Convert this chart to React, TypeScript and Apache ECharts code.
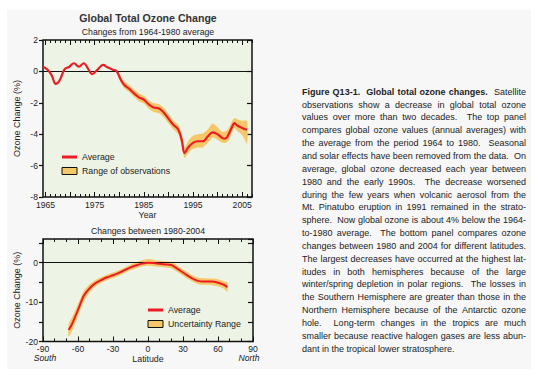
import React, { useEffect, useRef } from "react";
import * as echarts from "echarts";

// ---------- Top panel data: global total ozone change (%) ----------
const years = [1964.5, 1965.5, 1966.3, 1967.1, 1967.9, 1968.9, 1969.8, 1970.8, 1971.8, 1972.8, 1973.5, 1974.5, 1975.7, 1976.7, 1977.6, 1978.7, 1979.4, 1980.2, 1981, 1982, 1983, 1984, 1985, 1986, 1987, 1988, 1989, 1990, 1991, 1992, 1992.7, 1993.3, 1994, 1995, 1996, 1997, 1998, 1999, 2000, 2001, 2001.5, 2002, 2003, 2003.4, 2004, 2005, 2006];
const avgChange = [0.3, 0.09, -0.28, -0.8, -0.56, 0.15, 0.28, 0.52, 0.3, 0.52, 0.26, -0.17, 0.15, 0.41, 0.26, 0.11, 0.04, -0.45, -0.85, -1.1, -1.4, -1.65, -1.8, -2.1, -2.3, -2.35, -2.6, -3.0, -3.4, -3.7, -4.35, -5.2, -4.85, -4.55, -4.45, -4.45, -4.15, -3.88, -4.0, -4.25, -4.28, -4.15, -3.5, -3.3, -3.45, -3.6, -3.72];

const bandYears = [1979.6, 1980.2, 1981, 1982, 1983, 1984, 1985, 1986, 1987, 1988, 1989, 1990, 1991, 1992, 1992.7, 1993.3, 1994, 1995, 1996, 1997, 1998, 1999, 2000, 2001, 2002, 2003, 2003.4, 2004, 2005, 2006];
const bandLow = [-0.12, -0.65, -1.05, -1.32, -1.62, -1.9, -2.05, -2.38, -2.58, -2.65, -2.9, -3.3, -3.68, -4.0, -4.7, -5.52, -5.2, -4.95, -4.85, -4.85, -4.55, -4.22, -4.35, -4.55, -4.5, -3.85, -3.6, -3.8, -4.05, -4.6];
const bandHigh = [0.12, -0.25, -0.65, -0.88, -1.15, -1.4, -1.55, -1.85, -2.02, -2.1, -2.3, -2.72, -3.12, -3.4, -4.0, -4.85, -4.45, -4.1, -4.0, -3.95, -3.7, -3.32, -3.55, -3.85, -3.75, -3.15, -2.97, -3.05, -3.15, -3.15];

const yearTickLabels = ["1965", "1975", "1985", "1995", "2005"];
const YEAR_MIN = 1964.5;
const YEAR_MAX = 2007;

// ---------- Bottom panel data: change 1980-2004 by latitude (%) ----------
const latitudes = [-68, -65, -60, -55, -50, -45, -40, -35, -30, -25, -20, -15, -10, -5, 0, 5, 10, 15, 20, 25, 30, 35, 40, 45, 50, 55, 60, 65, 68];
const latAvg = [-17.1, -15.5, -12.0, -8.4, -6.5, -5.2, -4.4, -3.7, -3.2, -2.6, -1.9, -1.2, -0.65, -0.25, 0.0, -0.1, -0.3, -0.45, -0.6, -1.5, -2.5, -3.5, -4.3, -4.75, -4.8, -4.8, -5.1, -5.6, -6.2];
const latLow = [-18.8, -17.2, -13.5, -9.8, -7.5, -6.0, -5.1, -4.4, -3.9, -3.3, -2.6, -1.9, -1.4, -1.0, -0.8, -0.9, -1.1, -1.2, -1.4, -2.3, -3.3, -4.3, -5.1, -5.6, -5.6, -5.7, -6.0, -6.6, -7.4];
const latHigh = [-15.5, -13.8, -10.5, -7.2, -5.5, -4.4, -3.7, -3.0, -2.5, -1.9, -1.2, -0.5, 0.1, 0.6, 0.9, 0.7, 0.5, 0.3, 0.2, -0.7, -1.7, -2.7, -3.5, -3.9, -4.0, -4.0, -4.2, -4.7, -5.0];

const latTickLabels = ["-90", "-60", "-30", "0", "30", "60", "90"];
const latYTickLabels = ["0", "-10", "-20"];

// ---------- Caption ----------
const captionBoldLead = "Figure Q13-1.  Global total ozone changes.";
const captionLines = [
  "Figure Q13-1.  Global total ozone changes.  Satellite",
  "observations show a decrease in global total ozone",
  "values over more than two decades.  The top panel",
  "compares global ozone values (annual averages) with",
  "the average from the period 1964 to 1980.  Seasonal",
  "and solar effects have been removed from the data.  On",
  "average, global ozone decreased each year between",
  "1980 and the early 1990s.  The decrease worsened",
  "during the few years when volcanic aerosol from the",
  "Mt. Pinatubo eruption in 1991 remained in the strato-",
  "sphere.  Now global ozone is about 4% below the 1964-",
  "to-1980 average.  The bottom panel compares ozone",
  "changes between 1980 and 2004 for different latitudes.",
  "The largest decreases have occurred at the highest lat-",
  "itudes in both hemispheres because of the large",
  "winter/spring depletion in polar regions.  The losses in",
  "the Southern Hemisphere are greater than those in the",
  "Northern Hemisphere because of the Antarctic ozone",
  "hole.  Long-term changes in the tropics are much",
  "smaller because reactive halogen gases are less abun-",
  "dant in the tropical lower stratosphere.",
];

const FAM = '"Liberation Sans", Arial, Helvetica, sans-serif';
const RED = "#ec1c24";
const BAND = "#f5c768";
const PLOT_BG = "#eef4e5";
const TXT = "#222222";

const CAP_X = 302;
const CAP_W = 224;
const CAP_Y = 91.7;
const CAP_LH = 12.85;

function buildCaption(): any[] {
  const canvas = document.createElement("canvas");
  const ctx = canvas.getContext("2d") as CanvasRenderingContext2D;
  const m = (t: string, bold: boolean) => {
    ctx.font = `${bold ? "bold " : ""}9px ${FAM}`;
    return ctx.measureText(t).width;
  };
  const sp = m(" ", false);
  const boldCount = captionBoldLead.split(" ").length;
  const els: any[] = [];
  captionLines.forEach((line, li) => {
    const toks = line.split(" ");
    const bolds = toks.map((_, ti) => li === 0 && ti < boldCount);
    const widths = toks.map((t, ti) => (t ? m(t, bolds[ti]) : 0));
    const gaps = toks.length - 1;
    const natural = widths.reduce((a, b) => a + b, 0) + gaps * sp;
    const justify = li < captionLines.length - 1 && gaps > 0;
    const extra = justify ? (CAP_W - natural) / gaps : 0;
    let x = CAP_X;
    const y = CAP_Y + li * CAP_LH;
    toks.forEach((t, ti) => {
      if (t) {
        els.push({
          type: "text",
          x,
          y,
          silent: true,
          style: {
            text: t,
            fill: TXT,
            font: `${bolds[ti] ? "bold " : ""}9px ${FAM}`,
            textAlign: "left",
            textVerticalAlign: "middle",
            align: "left",
            verticalAlign: "middle",
          },
        });
      }
      x += widths[ti] + sp + extra;
    });
  });
  return els;
}

function txt(text: string, x: number, y: number, size: number, opts: any = {}) {
  return {
    type: "text",
    x,
    y,
    silent: true,
    style: {
      text,
      fill: opts.fill || TXT,
      font: `${opts.style || ""} ${opts.weight || ""} ${size}px ${FAM}`.trim(),
      textAlign: opts.align || "left",
      textVerticalAlign: "middle",
      align: opts.align || "left",
      verticalAlign: "middle",
    },
  };
}

function legendItems(x: number, y1: number, y2: number, label1: string, label2: string) {
  return [
    { type: "line", silent: true, shape: { x1: x, y1, x2: x + 15, y2: y1 }, style: { stroke: RED, lineWidth: 3 } },
    { type: "rect", silent: true, shape: { x, y: y2 - 3.5, width: 15, height: 7 }, style: { fill: BAND, stroke: "#111", lineWidth: 1 } },
    txt(label1, x + 20, y1, 8.8),
    txt(label2, x + 20, y2, 8.8),
  ];
}

const zeroLine = {
  silent: true,
  symbol: "none",
  label: { show: false },
  lineStyle: { color: "#111", width: 1, type: "solid" },
  data: [{ yAxis: 0 }],
};

function bandSeries(xi: number, yi: number, xs: number[], lo: number[], hi: number[]) {
  return {
    type: "custom",
    xAxisIndex: xi,
    yAxisIndex: yi,
    z: 2,
    silent: true,
    clip: true,
    data: xs.map((x, i) => [x, lo[i], hi[i]]),
    encode: { x: 0, y: [1, 2] },
    renderItem: (params: any, api: any) => {
      if (params.dataIndex !== 0) return null;
      const upper = xs.map((x, i) => api.coord([x, hi[i]]));
      const lower = xs.map((x, i) => api.coord([x, lo[i]])).reverse();
      return {
        type: "polygon",
        shape: { points: upper.concat(lower), smooth: 0.25 },
        style: { fill: BAND, stroke: "none" },
      };
    },
    markLine: zeroLine,
  };
}

export default function App() {
  const ref = useRef<HTMLDivElement>(null);

  useEffect(() => {
    if (!ref.current) return;
    const chart = echarts.init(ref.current, null, { renderer: "svg" });

    const labelStyle = { fontSize: 8.6, color: TXT, fontFamily: FAM };
    const hiddenLabel = { show: false };
    const noLine = { show: false, onZero: false };

    // half-year slots so that ticks land on whole years between 1964.5 and 2007
    const yearSlots: string[] = [];
    for (let k = 0; YEAR_MIN + k * 0.5 <= YEAR_MAX + 1e-9; k++) yearSlots.push(String(YEAR_MIN + k * 0.5));
    const isYear = (_i: number, v: string) => Number(v) % 1 === 0;
    const isFive = (_i: number, v: string) => Number(v) % 5 === 0;

    const yearCat = (pos: string, tickFn: any, len: number, extra: any = {}) => ({
      type: "category",
      gridIndex: 0,
      position: pos,
      data: yearSlots,
      boundaryGap: false,
      axisLine: noLine,
      splitLine: { show: false },
      axisTick: { show: true, inside: true, length: len, interval: tickFn, lineStyle: { color: "#111", width: 1 } },
      axisLabel: hiddenLabel,
      ...extra,
    });

    const xBot = (extra: any) => ({
      type: "value",
      gridIndex: 1,
      min: -90,
      max: 90,
      axisLine: noLine,
      splitLine: { show: false },
      ...extra,
    });

    const yAx = (grid: number, pos: string, min: number, max: number, interval: number, extra: any) => ({
      type: "value",
      gridIndex: grid,
      position: pos,
      min,
      max,
      interval,
      axisLine: noLine,
      splitLine: { show: false },
      ...extra,
    });

    const option: any = {
      animation: false,
      backgroundColor: "transparent",
      textStyle: { fontFamily: FAM },
      grid: [
        { left: 43, top: 40, width: 209, height: 157, show: true, backgroundColor: PLOT_BG, borderColor: "#111", borderWidth: 1.5 },
        { left: 43, top: 239, width: 210, height: 102.5, show: true, backgroundColor: PLOT_BG, borderColor: "#111", borderWidth: 1.5 },
      ],
      xAxis: [
        {
          type: "value",
          gridIndex: 0,
          min: YEAR_MIN,
          max: YEAR_MAX,
          show: false,
          axisLine: noLine,
        },
        yearCat("bottom", isYear, 3, {
          axisLabel: {
            ...labelStyle,
            margin: 3,
            interval: (_i: number, v: string) => yearTickLabels.includes(v),
          },
          name: "Year",
          nameLocation: "middle",
          nameGap: 13.5,
          nameTextStyle: { fontSize: 8.8, color: TXT, fontFamily: FAM },
        }),
        yearCat("bottom", isFive, 5),
        yearCat("top", isYear, 3),
        yearCat("top", isFive, 5),
        xBot({
          position: "bottom",
          interval: 10,
          axisTick: { show: true, inside: true, length: 3, lineStyle: { color: "#111" } },
          axisLabel: {
            ...labelStyle,
            margin: 3,
            formatter: (v: number) => (latTickLabels.includes(String(v)) ? String(v) : ""),
          },
          name: "Latitude",
          nameLocation: "middle",
          nameGap: 12.5,
          nameTextStyle: { fontSize: 8.8, color: TXT, fontFamily: FAM },
        }),
        xBot({ position: "top", interval: 10, axisTick: { show: true, inside: true, length: 3, lineStyle: { color: "#111" } }, axisLabel: hiddenLabel }),
        xBot({ position: "bottom", interval: 30, axisTick: { show: true, inside: true, length: 5, lineStyle: { color: "#111" } }, axisLabel: hiddenLabel }),
        xBot({ position: "top", interval: 30, axisTick: { show: true, inside: true, length: 5, lineStyle: { color: "#111" } }, axisLabel: hiddenLabel }),
      ],
      yAxis: [
        yAx(0, "left", -8, 2, 2, {
          axisTick: { show: true, inside: false, length: 4, lineStyle: { color: "#111", width: 1.2 } },
          axisLabel: { ...labelStyle, margin: 5 },
          name: "Ozone Change (%)",
          nameLocation: "middle",
          nameGap: 21.5,
          nameTextStyle: { fontSize: 9, color: TXT, fontFamily: FAM },
        }),
        yAx(0, "right", -8, 2, 2, {
          axisTick: { show: true, inside: true, length: 5, lineStyle: { color: "#111", width: 1.2 } },
          axisLabel: hiddenLabel,
        }),
        yAx(1, "left", -20, 6, 5, {
          axisTick: { show: true, inside: false, length: 4, lineStyle: { color: "#111", width: 1.2 } },
          axisLabel: {
            ...labelStyle,
            margin: 5,
            showMaxLabel: false,
            formatter: (v: number) => (latYTickLabels.includes(String(v)) ? String(v) : ""),
          },
          name: "Ozone Change (%)",
          nameLocation: "middle",
          nameGap: 21.5,
          nameTextStyle: { fontSize: 9, color: TXT, fontFamily: FAM },
        }),
        yAx(1, "right", -20, 6, 5, {
          axisTick: { show: true, inside: true, length: 5, lineStyle: { color: "#111", width: 1.2 } },
          axisLabel: hiddenLabel,
        }),
      ],
      series: [
        bandSeries(0, 0, bandYears, bandLow, bandHigh),
        {
          type: "line",
          xAxisIndex: 0,
          yAxisIndex: 0,
          data: years.map((y, i) => [y, avgChange[i]]),
          symbol: "none",
          smooth: 0.4,
          lineStyle: { color: RED, width: 2.2 },
          z: 5,
          silent: true,
        },
        bandSeries(5, 2, latitudes, latLow, latHigh),
        {
          type: "line",
          xAxisIndex: 5,
          yAxisIndex: 2,
          data: latitudes.map((l, i) => [l, latAvg[i]]),
          symbol: "none",
          smooth: 0.3,
          lineStyle: { color: RED, width: 2 },
          z: 5,
          silent: true,
        },
      ],
      graphic: [
        txt("Global Total Ozone Change", 148, 17.5, 10.6, { align: "center", weight: "bold", fill: "#333" }),
        txt("Changes from 1964-1980 average", 148, 32, 8.7, { align: "center" }),
        txt("Changes between 1980-2004", 148, 231, 8.7, { align: "center" }),
        txt("South", 45, 358, 8.6, { align: "center", style: "italic" }),
        txt("North", 249, 358, 8.6, { align: "center", style: "italic" }),
        ...legendItems(62, 157, 171, "Average", "Range of observations"),
        ...legendItems(148, 310, 324, "Average", "Uncertainty Range"),
        ...buildCaption(),
      ],
    };

    chart.setOption(option);
    return () => chart.dispose();
  }, []);

  return (
    <div style={{ position: "fixed", left: 0, top: 0, width: 547, height: 381, background: "#ffffff" }}>
      <div style={{ position: "absolute", left: 7, top: 10, width: 524, height: 359, background: "#f7f7f7" }} />
      <div ref={ref} style={{ position: "absolute", left: 0, top: 0, width: 547, height: 381 }} />
    </div>
  );
}
